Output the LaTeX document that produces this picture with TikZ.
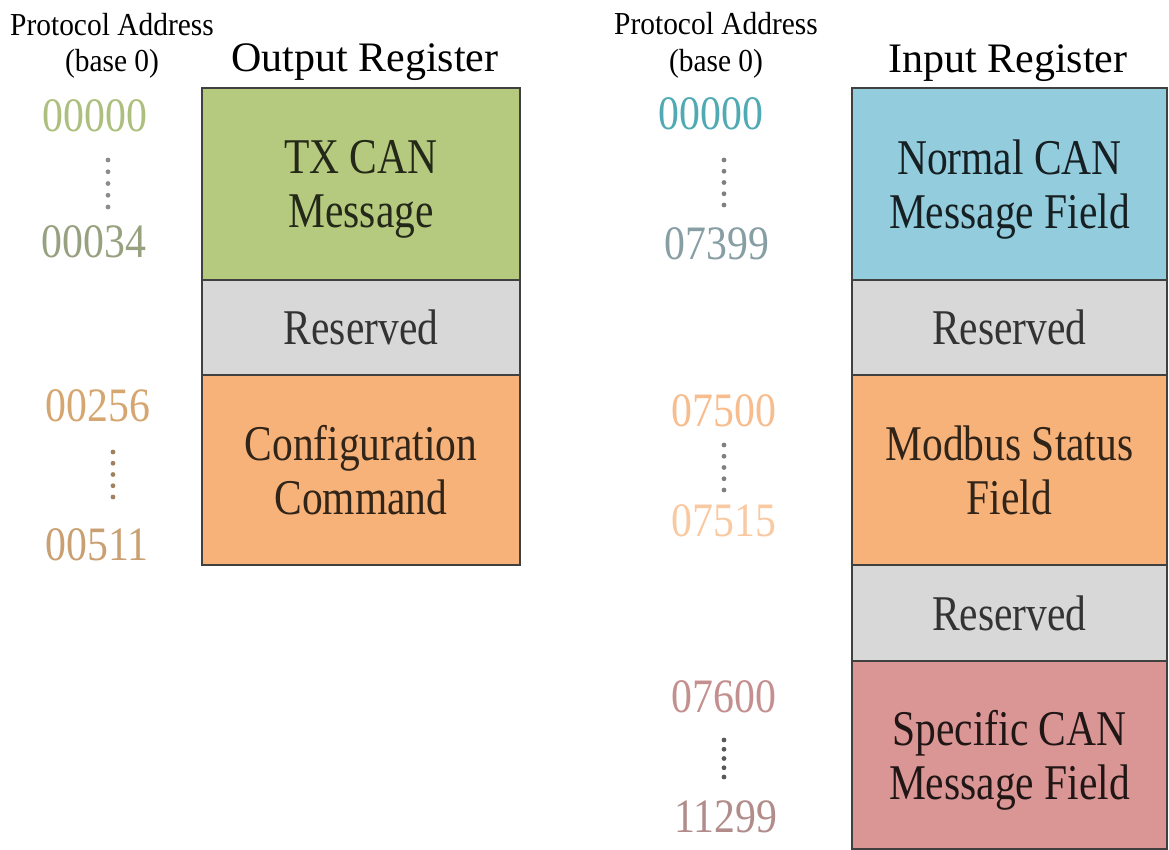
\documentclass[tikz,border=0pt]{standalone}
\usepackage{fontspec}
\setmainfont{Liberation Serif}
\newfontfamily\fieldfont{Liberation Serif}[FakeStretch=0.83]
\newfontfamily\addrfont{Liberation Serif}[FakeStretch=0.87]
\newfontfamily\headfont{Liberation Serif}[FakeStretch=0.92]
\usetikzlibrary{positioning}
\definecolor{regGreen}{RGB}{181, 202, 126}
\definecolor{regGray}{RGB}{216, 216, 216}
\definecolor{regOrange}{RGB}{247, 178, 122}
\definecolor{regBlue}{RGB}{146, 204, 221}
\definecolor{regRed}{RGB}{218, 150, 148}
\definecolor{addrTan}{RGB}{214, 166, 112}

\begin{document}
\begin{tikzpicture}[x=0.5pt, y=-0.5pt,
        field/.style={rectangle, draw=black!75, line width=1pt, outer sep=0pt, inner sep=0pt, align=center, text depth=0pt, font=\fieldfont\fontsize{25}{27}\selectfont},
        regtitle/.style={anchor=base, font=\fontsize{21}{24}\selectfont},
        head/.style={anchor=base, font=\headfont\fontsize{16}{18}\selectfont},
        addr/.style={anchor=base, font=\addrfont\fontsize{24}{26}\selectfont}
    ]
        \useasboundingbox (0,0) rectangle (1169,850);

        % Output register
        \node[head] (hdA1) at (112,36) {Protocol Address};
        \node[head] (hdA2) at (112,72) {(base 0)};
        \node[regtitle] (outTitle) at (365,72) {Output Register};
        \node[field, fill=regGreen, text=regGreen!20!black, minimum width=159pt, minimum height=96pt] (out1) at (361,184) {TX CAN\\Message};
        \node[field, fill=regGray, text=black!80, minimum width=159pt, minimum height=47.5pt, below=0pt of out1] (out2) {Reserved};
        \node[field, fill=regOrange, text=regOrange!20!black, minimum width=159pt, minimum height=95pt, below=0pt of out2] (out3) {Configuration\\Command};

        \node[addr, text=regGreen!85!gray] (oa1) at (95,132) {00000};
        \node[addr, text=regGreen!45!gray] (oa2) at (94,258) {00034};
        \node[addr, text=addrTan] (oa3) at (98,422) {00256};
        \node[addr, text=addrTan!85!gray] (oa4) at (97,560) {00511};
        \foreach \k in {0,...,4} \fill[gray!90] (108,{160+\k*11.75}) circle (1.2pt);
        \foreach \k in {0,...,4} \fill[brown!50!gray] (113,{452+\k*11.25}) circle (1.2pt);

        % Input register
        \node[head] (hdB1) at (716,35) {Protocol Address};
        \node[head] (hdB2) at (716,72) {(base 0)};
        \node[regtitle] (inTitle) at (1008,73) {Input Register};
        \node[field, fill=regBlue, text=regBlue!15!black, minimum width=157.5pt, minimum height=96pt] (in1) at (1009.5,184) {Normal CAN\\Message Field};
        \node[field, fill=regGray, text=black!80, minimum width=157.5pt, minimum height=47.5pt, below=0pt of in1] (in2) {Reserved};
        \node[field, fill=regOrange, text=regOrange!20!black, minimum width=157.5pt, minimum height=95pt, below=0pt of in2] (in3) {Modbus Status\\Field};
        \node[field, fill=regGray, text=black!80, minimum width=157.5pt, minimum height=48pt, below=0pt of in3] (in4) {Reserved};
        \node[field, fill=regRed, text=regRed!15!black, minimum width=157.5pt, minimum height=94pt, below=0pt of in4] (in5) {Specific CAN\\Message Field};

        \node[addr, text=regBlue!55!teal] (ia1) at (711,130) {00000};
        \node[addr, text=regBlue!40!gray] (ia2) at (717,260) {07399};
        \node[addr, text=regOrange!85!white] (ia3) at (724,427) {07500};
        \node[addr, text=regOrange!70!white] (ia4) at (724,537) {07515};
        \node[addr, text=regRed!75!gray] (ia5) at (724,712) {07600};
        \node[addr, text=regRed!55!gray] (ia6) at (726,832) {11299};
        \foreach \k in {0,...,4} \fill[gray] (724,{160+\k*11.25}) circle (1.2pt);
        \foreach \k in {0,...,4} \fill[gray] (724,{445+\k*11.25}) circle (1.2pt);
        \foreach \k in {0,...,4} \fill[black!65] (724,{740+\k*9.25}) circle (1.2pt);
    \end{tikzpicture}
\end{document}
